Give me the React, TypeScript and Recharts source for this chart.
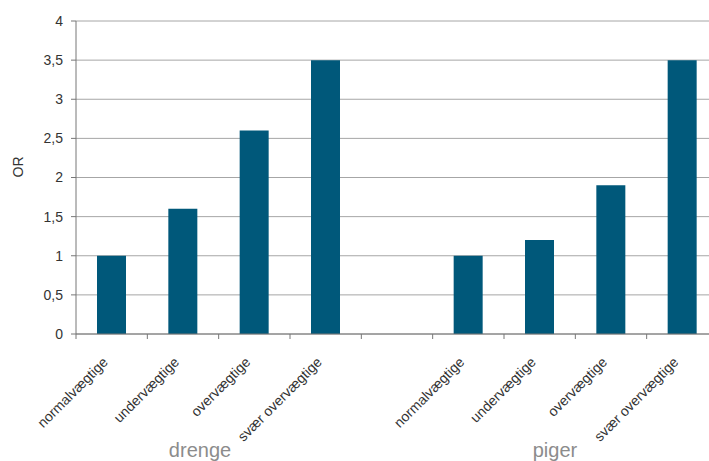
import React from 'react';
import { BarChart, Bar, XAxis, YAxis, CartesianGrid } from 'recharts';

const categories = [
  'normalvægtige', 'undervægtige', 'overvægtige', 'svær overvægtige',
  '',
  'normalvægtige', 'undervægtige', 'overvægtige', 'svær overvægtige',
];
const orValues = [1, 1.6, 2.6, 3.5, null, 1, 1.2, 1.9, 3.5];
const yTicks = [0, 0.5, 1, 1.5, 2, 2.5, 3, 3.5, 4];
const groups = [
  { name: 'drenge', center: 200 },
  { name: 'piger', center: 555 },
];

const data = categories.map((c, i) => ({ name: c, or: orValues[i] }));

const CHART_W = 718;
const CHART_H = 461;
const Y_AXIS_W = 76;
const BAND = (CHART_W - Y_AXIS_W) / categories.length;

const XTick = (props: any) => {
  const { x, y, payload } = props;
  const bx = x - BAND / 2;
  return (
    <g>
      <line x1={bx} x2={bx} y1={y} y2={y + 5} stroke="#777" />
      <text
        transform={`translate(${x - 3},${y + 29}) rotate(-45)`}
        textAnchor="end"
        fontSize={14}
        fill="#333"
      >
        {payload.value}
      </text>
    </g>
  );
};

export default function App() {
  return (
    <div
      style={{
        position: 'fixed', left: 0, top: 0, width: 709, height: 461,
        overflow: 'hidden', background: '#fff', fontFamily: '"Liberation Sans", Arial, sans-serif',
      }}
    >
      <BarChart width={CHART_W} height={CHART_H} data={data} margin={{ top: 21, right: 0, left: 0, bottom: 0 }}>
        <CartesianGrid vertical={false} stroke="#a6a6a6" />
        <XAxis
          dataKey="name"
          interval={0}
          height={127}
          tickLine={false}
          tickSize={0}
          tickMargin={0}
          stroke="#777"
          tick={<XTick />}
        />
        <YAxis
          width={Y_AXIS_W}
          domain={[0, 4]}
          ticks={yTicks}
          tickSize={5}
          tickMargin={8}
          stroke="#777"
          tick={{ fontSize: 14, fill: '#333' }}
          tickFormatter={(v: number) => String(v).replace('.', ',')}
          label={{ value: 'OR', angle: -90, position: 'insideLeft', offset: 18, fontSize: 14, fill: '#333' }}
        />
        <Bar dataKey="or" fill="#00587a" barSize={29} isAnimationActive={false} />
      </BarChart>
      {groups.map((g) => (
        <div
          key={g.name}
          style={{
            position: 'absolute', top: 439, left: g.center - 60, width: 120,
            textAlign: 'center', fontSize: 20, color: '#8c8c8c',
          }}
        >
          {g.name}
        </div>
      ))}
    </div>
  );
}
